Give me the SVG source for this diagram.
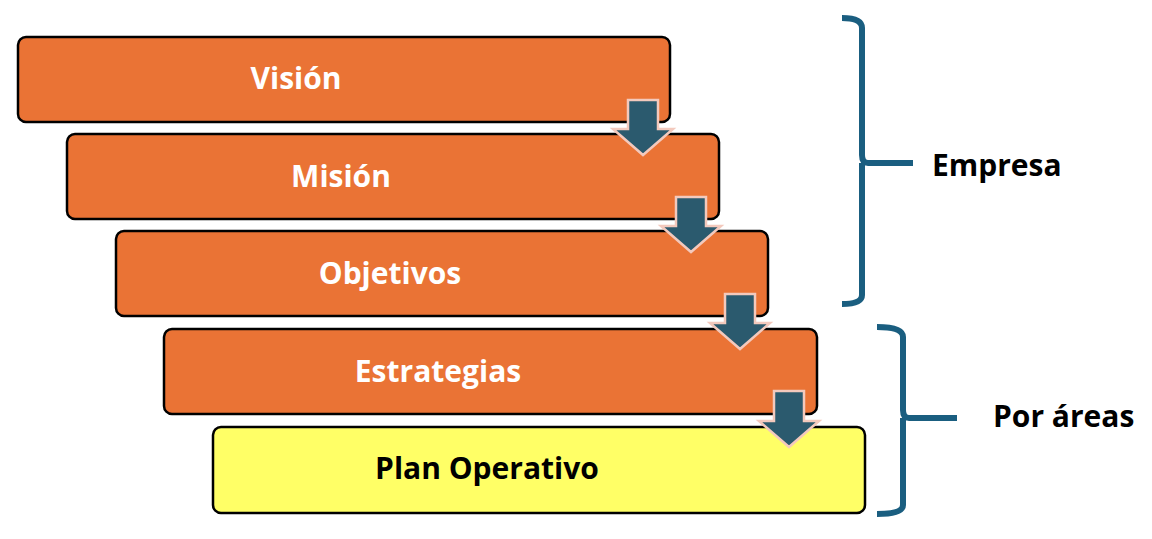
<svg xmlns="http://www.w3.org/2000/svg" width="1152" height="539" viewBox="0 0 1152 539">
<style>
.b{stroke:#000;stroke-width:2.5}
.o{fill:#ea7335}
.y{fill:#ffff66}
.t{font-family:"Open Sans","Liberation Sans",sans-serif;font-weight:bold;font-size:30px;text-anchor:middle}
.w{fill:#fff}
.k{fill:#000}
.a{fill:#2b5a6e;stroke:#f3c9bd;stroke-width:2.5;stroke-linejoin:miter}
.br{fill:none;stroke:#1a5e80;stroke-width:6}
.l{font-family:"Open Sans","Liberation Sans",sans-serif;font-weight:bold;font-size:30px}
</style>
<rect width="1152" height="539" fill="#fff"/>
<g id="vision"><rect class="b o" x="18" y="37" width="652" height="85" rx="8"/><text class="t w" x="296" y="89">Visión</text></g>
<g id="mision"><rect class="b o" x="67" y="134" width="652" height="85" rx="8"/><text class="t w" x="341" y="187">Misión</text></g>
<g id="objetivos"><rect class="b o" x="116" y="231" width="652" height="85" rx="8"/><text class="t w" x="390" y="284">Objetivos</text></g>
<g id="estrategias"><rect class="b o" x="164" y="329" width="653" height="85" rx="8"/><text class="t w" x="438" y="382">Estrategias</text></g>
<g id="plan"><rect class="b y" x="213" y="427" width="652" height="86" rx="8"/><text class="t k" x="487" y="479">Plan Operativo</text></g>
<g id="connectors">
<path class="a" d="M628,100 H658 V129 H673 L643,155 L613,129 H628 Z"/>
<path class="a" d="M676,197 H706 V226 H721 L691,252 L661,226 H676 Z"/>
<path class="a" d="M725,294 H755 V323 H770 L740,349 L710,323 H725 Z"/>
<path class="a" d="M774,391 H804 V421 H819 L789,447 L759,421 H774 Z"/>
</g>
<g id="brace-empresa"><path class="br" d="M842,18 Q862,18 862,28 V155 Q862,163 868,163 H913 M862,163 V295 Q862,304 842,304"/><text class="l" x="932" y="176">Empresa</text></g>
<g id="brace-areas"><path class="br" d="M877,327 Q903,327 903,337 V410 Q903,418 909,418 H957 M903,418 V505 Q903,514 877,514"/><text class="l" x="993" y="427">Por áreas</text></g>
</svg>
